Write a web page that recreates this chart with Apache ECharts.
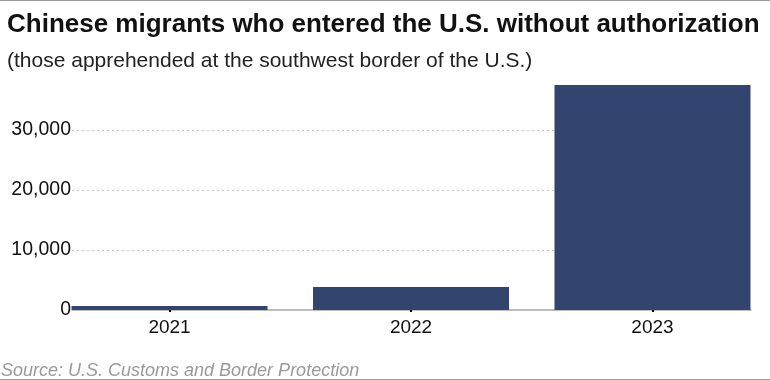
<!DOCTYPE html>
<html>
<head>
<meta charset="utf-8">
<script src="https://cdn.jsdelivr.net/npm/echarts@6/dist/echarts.min.js"></script>
<style>
  html, body { margin: 0; padding: 0; background: #fff; }
  #wrap { width: 770px; height: 380px; box-sizing: border-box; border-top: 1px solid #9a9a9a; border-bottom: 1px solid #9a9a9a; }
  #chart { width: 770px; height: 378px; }
</style>
</head>
<body>
<div id="wrap"><div id="chart"></div></div>
<script>
const titleText = 'Chinese migrants who entered the U.S. without authorization';
const subtitleText = '(those apprehended at the southwest border of the U.S.)';
const sourceText = 'Source: U.S. Customs and Border Protection';
const years = ['2021', '2022', '2023'];
const apprehensions = [650, 3850, 37500];
const yTicks = [0, 10000, 20000, 30000];

const chart = echarts.init(document.getElementById('chart'));
const fmt = v => v.toLocaleString('en-US');
const yMin = yTicks[0], yStep = yTicks[1] - yTicks[0], yMax = yTicks[yTicks.length - 1] + yStep;
const FF = 'Liberation Sans, Arial, sans-serif';
const idx = years.map((_, i) => i);

chart.setOption({
  animation: false,
  textStyle: { fontFamily: FF },
  title: [
    { text: titleText, left: 7, top: 11, padding: 0,
      textStyle: { fontSize: 26, fontWeight: 'bold', color: '#111', fontFamily: FF } },
    { text: subtitleText, left: 7, top: 50, padding: 0,
      textStyle: { fontSize: 21, fontWeight: 'normal', color: '#222', fontFamily: FF } },
    { text: sourceText, left: 1, top: 361, padding: 0,
      textStyle: { fontSize: 18, fontWeight: 'normal', fontStyle: 'italic', color: '#9a9a9a', fontFamily: FF } }
  ],
  grid: { left: 72, right: 19, top: 69, bottom: 69, containLabel: false, outerBoundsMode: 'none' },
  xAxis: {
    type: 'value',
    min: -0.404, max: idx[idx.length - 1] + 0.408,
    splitLine: { show: false },
    axisLine: { show: true, onZero: true, lineStyle: { color: '#a8a8a8', width: 1.5 } },
    axisTick: { show: true, customValues: idx, length: 2, lineStyle: { color: '#000', width: 2 } },
    axisLabel: { customValues: idx, fontSize: 19, color: '#111', margin: 8, formatter: v => years[v] }
  },
  yAxis: {
    type: 'value', min: yMin, max: yMax, interval: yStep,
    axisLine: { show: false }, axisTick: { show: false },
    axisLabel: { fontSize: 19.5, color: '#111', margin: 1, showMaxLabel: false, formatter: v => fmt(v) },
    splitLine: { show: true, showMinLine: false, showMaxLine: false,
      lineStyle: { color: '#c8c8c8', type: [2, 3], width: 1 } }
  },
  series: [{
    type: 'bar',
    data: idx.map(i => [i, apprehensions[i]]),
    barWidth: 196,
    itemStyle: { color: '#33446f' }
  }]
});
</script>
</body>
</html>
